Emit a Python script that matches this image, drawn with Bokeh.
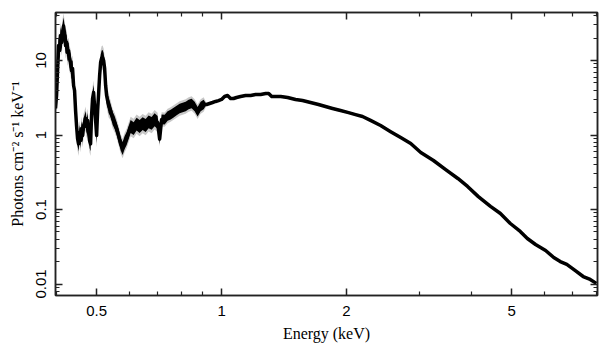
from bokeh.plotting import figure
from bokeh.models import LogAxis, FixedTicker, Range1d, CustomJSTickFormatter, ColumnDataSource
from bokeh.embed import file_html
from bokeh.resources import INLINE

# Energy (keV) and unfolded flux (photons cm^-2 s^-1 keV^-1)
energy = [0.398, 0.4003, 0.4026, 0.4048, 0.4071, 0.4093, 0.4116, 0.4139, 0.4162, 0.4185,
          0.4209, 0.4232, 0.4256, 0.4279, 0.4303, 0.4327, 0.4351, 0.4375, 0.44, 0.4424,
          0.4449, 0.4473, 0.4498, 0.4523, 0.4549, 0.4574, 0.4599, 0.4625, 0.4651, 0.4677,
          0.4703, 0.4729, 0.4755, 0.4782, 0.4808, 0.4835, 0.4862, 0.4889, 0.4917, 0.4944,
          0.4972, 0.5, 0.5028, 0.5056, 0.5084, 0.5112, 0.5141, 0.5169, 0.5198, 0.5227,
          0.5256, 0.5285, 0.5315, 0.5344, 0.5404, 0.5464, 0.5525, 0.5587, 0.5649, 0.5712,
          0.5776, 0.5841, 0.5906, 0.5972, 0.6038, 0.614, 0.6242, 0.6347, 0.6454, 0.6562,
          0.6672, 0.6784, 0.6898, 0.7014, 0.7092, 0.7171, 0.7292, 0.7414, 0.7539, 0.7665,
          0.7794, 0.7925, 0.8058, 0.8193, 0.8331, 0.847, 0.8613, 0.8757, 0.8904, 0.9053,
          0.9205, 0.9356, 0.9513, 0.9673, 0.9835, 1.0, 1.0168, 1.0338, 1.0512, 1.0689,
          1.0868, 1.1111, 1.1425, 1.1749, 1.2081, 1.2422, 1.2773, 1.2989, 1.3207, 1.3503,
          1.3885, 1.4426, 1.5073, 1.567, 1.638, 1.7122, 1.78, 1.8506, 1.9347, 2.0226,
          2.1027, 2.186, 2.2852, 2.4165, 2.555, 2.7015, 2.8564, 3.0201, 3.2403, 3.4673,
          3.7099, 3.915, 4.1563, 4.446, 4.6976, 4.9634, 5.244, 5.4544, 5.7082, 6.0358,
          6.3145, 6.5465, 6.789, 7.1051, 7.436, 7.73, 7.999]
flux = [2.27, 3.39, 7.34, 15.9, 13.6, 21.7, 17.4, 24.0, 29.0, 23.0,
        15.9, 17.6, 12.8, 13.5, 10.6, 9.4, 7.34, 7.81, 4.62, 3.96,
        2.13, 1.34, 0.898, 0.76, 1.08, 0.844, 1.22, 0.985, 1.34, 1.47,
        1.67, 1.30, 1.57, 1.08, 0.844, 0.76, 1.83, 3.09, 3.72, 2.41,
        1.57, 0.985, 2.13, 3.61, 6.29, 9.4, 10.8, 11.0, 10.0, 7.81,
        4.62, 3.39, 2.9, 2.49, 2.13, 1.67, 1.47, 1.22, 0.985, 0.76,
        0.66, 0.793, 0.898, 1.08, 1.30, 1.22, 1.40, 1.30, 1.42, 1.34,
        1.50, 1.43, 1.60, 1.47, 0.88, 1.62, 1.61, 1.80, 1.88, 2.0,
        2.13, 2.27, 2.34, 2.41, 2.57, 2.65, 2.41, 2.05, 2.41, 2.57,
        2.57, 2.65, 2.73, 2.82, 2.9, 3.0, 3.29, 3.39, 3.09, 3.09,
        3.19, 3.29, 3.39, 3.39, 3.50, 3.50, 3.61, 3.61, 3.29, 3.29,
        3.29, 3.19, 3.0, 2.9, 2.73, 2.57, 2.41, 2.27, 2.13, 2.0,
        1.88, 1.77, 1.57, 1.34, 1.11, 0.926, 0.769, 0.582, 0.455, 0.344,
        0.261, 0.204, 0.149, 0.110, 0.0884, 0.0649, 0.0507, 0.0408, 0.0339, 0.0282,
        0.0227, 0.0200, 0.0183, 0.0152, 0.0126, 0.0115, 0.0102]
# bin-to-bin scatter of the data (black band) and 1-sigma error (grey band), relative
scatter = [0.3] * 20 + [0.26] * 34 + [0.22] * 20 + [0.16] * 16 + [0.0] * 57
rel_err = [0.5] * 20 + [0.45] * 34 + [0.35] * 20 + [0.25] * 16 + [0.04] * 57

x_major = [0.5, 1, 2, 5]
x_minor = [0.4, 0.6, 0.7, 0.8, 0.9, 3, 4, 6, 7, 8]
y_major = [0.01, 0.1, 1, 10]
y_minor = [0.008, 0.009, 0.02, 0.03, 0.04, 0.05, 0.06, 0.07, 0.08, 0.09,
           0.2, 0.3, 0.4, 0.5, 0.6, 0.7, 0.8, 0.9,
           2, 3, 4, 5, 6, 7, 8, 9, 20, 30, 40]

src = ColumnDataSource(dict(
    x=energy, y=flux,
    lo=[f / (1 + e) for f, e in zip(flux, rel_err)],
    hi=[f * (1 + e) for f, e in zip(flux, rel_err)],
    slo=[f / (1 + s) for f, s in zip(flux, scatter)],
    shi=[f * (1 + s) for f, s in zip(flux, scatter)],
))

p = figure(width=609, height=357, x_axis_type="log", y_axis_type="log",
           x_range=Range1d(0.398, 8.05), y_range=Range1d(0.00701, 44.1),
           output_backend="svg", toolbar_location=None,
           min_border_left=55, min_border_right=12, min_border_top=12, min_border_bottom=62)
p.grid.visible = False
p.outline_line_color = "#222222"
p.outline_line_width = 1.5

p.varea(x="x", y1="lo", y2="hi", source=src, fill_color="#c8c8c8")
p.varea(x="x", y1="slo", y2="shi", source=src, fill_color="black")
p.line(x="x", y="y", source=src, line_color="black", line_width=3.5, line_join="round")

xt = FixedTicker(ticks=x_major, minor_ticks=x_minor)
yt = FixedTicker(ticks=y_major, minor_ticks=y_minor)
fmt = CustomJSTickFormatter(code="return tick.toString();")
blank = CustomJSTickFormatter(code="return '';")

def style(ax):
    ax.axis_line_color = "#222222"
    ax.axis_line_width = 1.5
    ax.major_tick_line_color = "#222222"
    ax.minor_tick_line_color = "#222222"
    ax.major_tick_line_width = 1.5
    ax.minor_tick_line_width = 1.2
    ax.major_tick_in = 7
    ax.major_tick_out = 0
    ax.minor_tick_in = 4
    ax.minor_tick_out = 0
    ax.major_label_text_font = "'Liberation Sans', Arial, sans-serif"
    ax.major_label_text_font_size = "15px"
    ax.major_label_text_color = "black"
    ax.axis_label_text_font = "'Liberation Serif', 'Times New Roman', serif"
    ax.axis_label_text_font_style = "normal"
    ax.axis_label_text_font_size = "16px"
    ax.axis_label_text_color = "black"

xa = p.xaxis[0]
xa.ticker = xt
xa.formatter = fmt
style(xa)
xa.axis_label = "Energy (keV)"
xa.major_label_standoff = 10
xa.axis_label_standoff = 6

ya = p.yaxis[0]
ya.ticker = yt
ya.formatter = fmt
style(ya)
ya.axis_label = "Photons cm⁻² s⁻¹ keV⁻¹"
ya.major_label_orientation = "vertical"
ya.major_label_standoff = 9
ya.axis_label_standoff = 8

for loc, tick in (("above", xt), ("right", yt)):
    ax = LogAxis(ticker=tick, formatter=blank)
    style(ax)
    ax.major_label_standoff = 0
    p.add_layout(ax, loc)

open("out.html", "w").write(file_html(p, INLINE))
